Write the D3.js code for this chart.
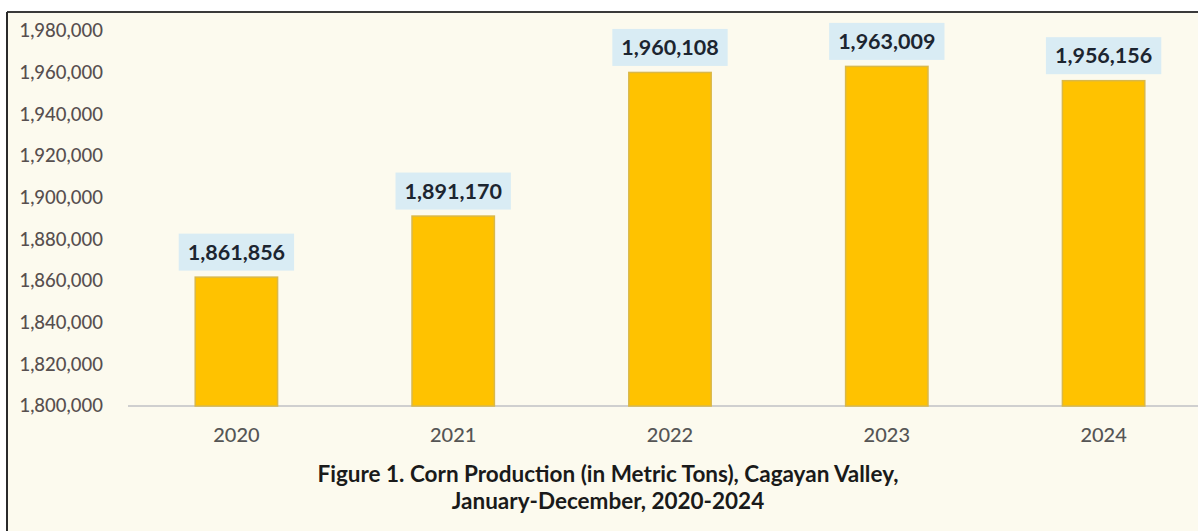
<!DOCTYPE html>
<html>
<head>
<meta charset="utf-8">
<script src="https://cdn.jsdelivr.net/npm/d3@7"></script>
<style>
  html, body { margin: 0; padding: 0; background: #ffffff; }
  svg { display: block; }
</style>
</head>
<body>
<svg id="chart" width="1198" height="531"></svg>
<script>
const years = ["2020", "2021", "2022", "2023", "2024"];
const production = [1861856, 1891170, 1960108, 1963009, 1956156];
const yTicks = [1800000, 1820000, 1840000, 1860000, 1880000, 1900000, 1920000, 1940000, 1960000, 1980000];
const titleLines = ["Figure 1. Corn Production (in Metric Tons), Cagayan Valley,", "January-December, 2020-2024"];

const W = 1198, H = 531;
const svg = d3.select("#chart");
const FONT = "Lato, 'Open Sans', sans-serif";

// paper background + frame
svg.append("rect").attr("x", 0).attr("y", 0).attr("width", W).attr("height", H).attr("fill", "#ffffff");
svg.append("rect").attr("x", 7).attr("y", 12).attr("width", W - 7).attr("height", H - 12).attr("fill", "#fcfaee");
svg.append("line").attr("x1", 7).attr("x2", W).attr("y1", 12).attr("y2", 12)
  .attr("stroke", "#3a3a3a").attr("stroke-width", 2);
svg.append("line").attr("x1", 7).attr("x2", 7).attr("y1", 12).attr("y2", H)
  .attr("stroke", "#2a2a2a").attr("stroke-width", 2);

const x = d3.scaleBand().domain(years).range([128, 1212]).paddingInner(0.62).paddingOuter(0.31);
const y = d3.scaleLinear().domain([1800000, 1980000]).range([406, 31]);

// y axis labels (no line)
const yAxis = svg.append("g").attr("transform", "translate(103,0)")
  .call(d3.axisLeft(y).tickValues(yTicks).tickSize(0).tickPadding(0).tickFormat(d3.format(",")));
yAxis.select(".domain").remove();
yAxis.selectAll("text").attr("font-family", FONT).attr("font-size", 18.5)
  .attr("font-weight", 500).attr("fill", "#574f4f");

// x axis
const xAxis = svg.append("g").attr("transform", "translate(0,406)")
  .call(d3.axisBottom(x).tickSize(0).tickPadding(22));
xAxis.select(".domain").attr("stroke", "#cfcfcf").attr("stroke-width", 2)
  .attr("d", "M128,0H1198");
xAxis.selectAll("text").attr("font-family", FONT).attr("font-size", 20)
  .attr("font-weight", 500).attr("fill", "#555555");

// bars
svg.append("g").selectAll("rect").data(years).join("rect")
  .attr("x", d => x(d))
  .attr("width", x.bandwidth())
  .attr("y", (d, i) => y(production[i]))
  .attr("height", (d, i) => y(1800000) - y(production[i]))
  .attr("fill", "#ffc200")
  .attr("stroke", "#d9b84a").attr("stroke-width", 1.5);

// data labels with light blue boxes
const lab = svg.append("g").selectAll("g").data(years).join("g")
  .attr("transform", (d, i) => `translate(${x(d) + x.bandwidth() / 2},${y(production[i]) - 25})`);
lab.append("rect").attr("class", "bg");
lab.append("text")
  .attr("text-anchor", "middle").attr("dy", "0.35em")
  .attr("font-family", FONT).attr("font-weight", 700).attr("font-size", 21.5)
  .attr("fill", "#1c2530")
  .text((d, i) => d3.format(",")(production[i]));
lab.each(function () {
  const g = d3.select(this);
  const tw = g.select("text").node().getComputedTextLength();
  g.select("rect.bg").attr("x", -tw / 2 - 9).attr("y", -18.5)
    .attr("width", tw + 18).attr("height", 37).attr("fill", "#d9ecf4");
});

// caption
svg.append("g").selectAll("text").data(titleLines).join("text")
  .attr("x", 608).attr("y", (d, i) => 474 + i * 27)
  .attr("dy", "0.35em").attr("text-anchor", "middle")
  .attr("font-family", FONT).attr("font-weight", 700).attr("font-size", 22.5)
  .attr("fill", "#1a1a1a")
  .text(d => d);
</script>
</body>
</html>
